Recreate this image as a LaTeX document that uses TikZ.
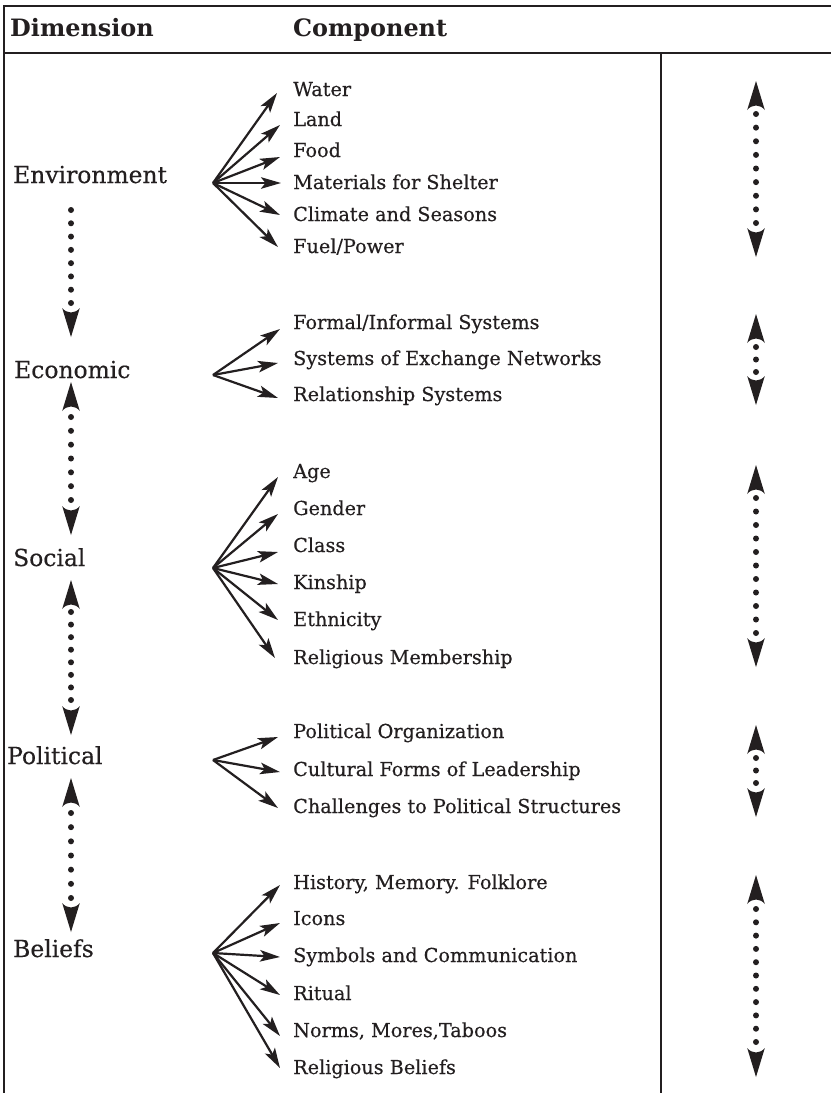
\documentclass[tikz,border=0pt]{standalone}
\usepackage{fontspec}
\setmainfont{DejaVu Serif}
\newfontfamily\medserif{DejaVu Serif}[BoldFont={DejaVu Serif},BoldFeatures={FakeBold=0.35}]
\usetikzlibrary{arrows.meta}
\definecolor{ink}{RGB}{35,31,32}
\tikzset{
  frame/.style={line width=2.2bp, draw=ink},
  dimlabel/.style={anchor=base west, inner sep=0pt, text=ink, font=\medserif\bfseries\fontsize{23.5}{28}\selectfont},
  comp/.style={anchor=base west, inner sep=0pt, text=ink, font=\medserif\bfseries\fontsize{19.3}{23}\selectfont},
  headtext/.style={anchor=base west, inner sep=0pt, text=ink, font=\bfseries\fontsize{24}{28}\selectfont},
  fan/.style={line width=2.2bp, draw=ink, -{Stealth[length=20bp,width=11.5bp,inset=4.5bp]}},
  headdown/.pic={\fill[ink] (0,0) -- (-8.8,-29) .. controls (-4,-23) and (4,-23) .. (8.8,-29) -- cycle;},
  headup/.pic={\fill[ink] (0,0) -- (-8.8,29) .. controls (-4,23) and (4,23) .. (8.8,29) -- cycle;},
}
\newcommand\citem[6]{%
  \node[comp] (#1) at (293,#3) {#2};
  \coordinate (#1t) at (#4,#5);
  \draw[fan] (#6) -- (#1t);}
\newcommand\dotrun[4]{%
  \foreach \k in {0,...,#4}{\fill[ink] (#1,{#2+\k*(#3-#2)/#4}) circle[radius=3bp];}}
\newcommand\dblarrow[4]{% name, x, ytop tip, ybottom tip
  \coordinate (#1up) at (#2,#3);
  \coordinate (#1dn) at (#2,#4);
  \pic at (#1up) {headup};
  \pic at (#1dn) {headdown};}
\begin{document}
\begin{tikzpicture}[x=1bp,y=-1bp]
\useasboundingbox (0,0) rectangle (831,1093);
\fill[white] (0,0) rectangle (831,1093);
% frame
\draw[frame] (3,6) -- (831,6);
\draw[frame] (3,53) -- (831,53);
\draw[frame] (4,5) -- (4,1093);
\draw[frame] (661,53) -- (661,1093);
% header
\node[headtext] (hdim) at (10,36) {Dimension};
\node[headtext] (hcomp) at (293,36) {Component};
% dimension labels
\node[dimlabel] (env) at (13,183) {Environment};
\node[dimlabel] (eco) at (14,378) {Economic};
\node[dimlabel] (soc) at (13,566) {Social};
\node[dimlabel] (pol) at (7,764) {Political};
\node[dimlabel] (bel) at (13,957) {Beliefs};
% fan origins
\coordinate (envO) at (213,183);
\coordinate (ecoO) at (213,375);
\coordinate (socO) at (213,568);
\coordinate (polO) at (213,760);
\coordinate (belO) at (213,953);
% Environment
\citem{e1}{Water}{96}{277}{93}{envO}
\citem{e2}{Land}{126}{280}{125}{envO}
\citem{e3}{Food}{157}{280}{157}{envO}
\citem{e4}{Materials for Shelter}{189}{281}{183}{envO}
\citem{e5}{Climate and Seasons}{221}{280}{215}{envO}
\citem{e6}{Fuel/Power}{253}{278}{247}{envO}
% Economic
\citem{c1}{Formal/Informal Systems}{329}{280}{329}{ecoO}
\citem{c2}{Systems of Exchange Networks}{365}{278}{363}{ecoO}
\citem{c3}{Relationship Systems}{401}{278}{398}{ecoO}
% Social
\citem{s1}{Age}{478}{278}{477}{socO}
\citem{s2}{Gender}{515}{278}{514}{socO}
\citem{s3}{Class}{552}{278}{552}{socO}
\citem{s4}{Kinship}{589}{278}{584}{socO}
\citem{s5}{Ethnicity}{626}{278}{620}{socO}
\citem{s6}{Religious Membership}{664}{275}{658}{socO}
% Political
\citem{p1}{Political Organization}{738}{278}{737}{polO}
\citem{p2}{Cultural Forms of Leadership}{776}{280}{772}{polO}
\citem{p3}{Challenges to Political Structures}{813}{278}{808}{polO}
% Beliefs
\citem{b1}{History, Memory. Folklore}{889}{280}{885}{belO}
\citem{b2}{Icons}{925}{280}{923}{belO}
\citem{b3}{Symbols and Communication}{962}{280}{957}{belO}
\citem{b4}{Ritual}{1000}{280}{995}{belO}
\citem{b5}{Norms, Mores,Taboos}{1037}{280}{1036}{belO}
\citem{b6}{Religious Beliefs}{1074}{280}{1068}{belO}
% left dotted connectors between dimensions
\coordinate (l1dn) at (71,337);
\pic at (l1dn) {headdown};
\dotrun{71}{210}{303}{7}
\dblarrow{l2}{71}{382}{535}
\dotrun{71}{417}{500}{6}
\dblarrow{l3}{71}{580}{735}
\dotrun{71}{612}{700}{7}
\dblarrow{l4}{71}{778}{932}
\dotrun{71}{813}{898}{6}
% right column
\dblarrow{r1}{756}{81}{257}
\dotrun{756}{114}{223}{8}
\dblarrow{r2}{756}{314}{405}
\dotrun{756}{347}{372}{2}
\dblarrow{r3}{756}{465}{667}
\dotrun{756}{498}{633}{10}
\dblarrow{r4}{756}{725}{817}
\dotrun{756}{758}{783}{2}
\dblarrow{r5}{756}{875}{1077}
\dotrun{756}{909}{1042}{10}
\end{tikzpicture}
\end{document}
